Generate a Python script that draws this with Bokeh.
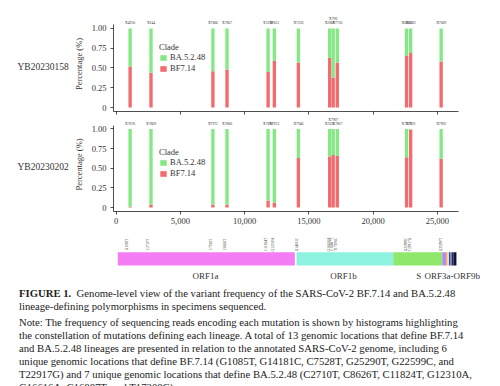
import math
from bokeh.plotting import figure
from bokeh.models import (ColumnDataSource, FixedTicker, NumeralTickFormatter, Range1d,
                          Legend, LegendItem, LabelSet, Div, CustomJSTickFormatter)
from bokeh.layouts import column, row
from bokeh.embed import file_html
from bokeh.resources import INLINE

# ---------------- data ----------------
positions = [1085, 2710, 7528, 8626, 11824, 12310, 14181, 16616, 16887, 17208, 22599, 22917, 25290]
mutations = ["G1085T", "C2710T", "C7528T", "C8626T", "C11824T", "G12310A", "G14181C",
             "G16616A", "C16887T", "T17208C", "G22599C", "T22917G", "G25290T"]

s1_name = "YB20230158"
s1_bf = [0.52, 0.44, 0.46, 0.48, 0.45, 0.59, 0.57, 0.63, 0.38, 0.57, 0.65, 0.69, 0.58]
s1_ba = [0.48, 0.56, 0.54, 0.52, 0.55, 0.41, 0.43, 0.37, 0.62, 0.43, 0.35, 0.31, 0.42]
s1_ids = ["X4950", "X244", "X7866", "X7867", "X3198", "X7611", "X7216",
          "X2869", "X796", "X7736", "X6865", "X3882", "X7669"]

s2_name = "YB20230202"
s2_bf = [0.01, 0.04, 0.04, 0.04, 0.09, 0.06, 0.63, 0.65, 0.67, 0.66, 0.64, 0.99, 0.62]
s2_ba = [0.99, 0.96, 0.96, 0.96, 0.91, 0.94, 0.37, 0.35, 0.33, 0.34, 0.36, 0.01, 0.38]
s2_ids = ["X7876", "X7869", "X7971", "X7806", "X7891", "X7913", "X7946",
          "X7631", "X7907", "X7867", "X7219", "X7921", "X7902"]

clades = ["BA.5.2.48", "BF7.14"]
x_ticks = [0, 5000, 10000, 15000, 20000, 25000]
y_ticks = [0, 0.25, 0.5, 0.75, 1.0]
y_tick_labels = ["0", "0.25", "0.50", "0.75", "1.00"]

gene_names = ["ORF1a", "ORF1b", "S", "ORF3a", "E", "M", "ORF6", "ORF7a", "ORF8", "N"]
gene_start = [355, 14143, 21605, 25385, 25690, 25760, 25900, 25990, 26120, 26260]
gene_end = [14012, 21605, 25385, 25690, 25760, 25860, 25990, 26120, 26260, 26480]
region_labels = ["ORF1a", "ORF1b", "S", "ORF3a-ORF9b"]
region_label_x = [7121, 17767, 23570, 26153]

caption_title = "Genome-level view of the variant frequency of the SARS-CoV-2 BF.7.14 and BA.5.2.48"
caption_title2 = "lineage-defining polymorphisms in specimens sequenced."
caption_note = [
    "Note: The frequency of sequencing reads encoding each mutation is shown by histograms highlighting",
    "the constellation of mutations defining each lineage. A total of 13 genomic locations that define BF.7.14",
    "and BA.5.2.48 lineages are presented in relation to the annotated SARS-CoV-2 genome, including 6",
    "unique genomic locations that define BF.7.14 (G1085T, G14181C, C7528T, G25290T, G22599C, and",
    "T22917G) and 7 unique genomic locations that define BA.5.2.48 (C2710T, C8626T, C11824T, G12310A,",
    "G16616A, C16887T, and T17208C).",
]

# ---------------- style ----------------
RED = "#F26B6F"
GREEN = "#84E884"
GENE_COLORS = ["#F47CF4", "#8EF2E0", "#8FE86C", "#B88AEF", "#F2A65E", "#F7D08A",
               "#3D4B8C", "#6F7FD8", "#1F2A5A", "#111133"]
FONT = "Liberation Serif"
TXT = "#333333"
X0 = -208
PX_PER_UNIT = 348 / 26848.0
LABEL_W = 70


def raised_flags(pos):
    out = []
    for i, p in enumerate(pos):
        left = i > 0 and p - pos[i - 1] < 400
        right = i < len(pos) - 1 and pos[i + 1] - p < 400
        out.append(1 if (left and right) else 0)
    return out


def panel(name, bf, ba, ids, top, frame_h, bottom, ytop, show_xlabels, legend_xy):
    flags = raised_flags(positions)
    src = ColumnDataSource(dict(pos=positions, bf=bf, ba=ba, ids=ids,
                                ly=[1.063 + 0.055 * f for f in flags]))
    h = top + frame_h + bottom
    yr = Range1d(-0.05, ytop)
    p = figure(width=492 - LABEL_W, height=h, x_range=Range1d(X0, X0 + 348 / PX_PER_UNIT),
               y_range=yr, output_backend="svg", toolbar_location=None,
               min_border_left=110 - LABEL_W, min_border_right=34,
               min_border_top=top, min_border_bottom=bottom)
    rs = p.vbar_stack(["bf", "ba"], x="pos", width=260, source=src,
                      fill_color=[RED, GREEN], line_color=None)
    p.xgrid.visible = False
    p.ygrid.visible = False
    p.outline_line_color = None

    ya = p.yaxis[0]
    ya.ticker = FixedTicker(ticks=y_ticks)
    ya.major_label_overrides = {t: l for t, l in zip(y_ticks, y_tick_labels)}
    ya.bounds = (-0.05, 1.05)
    ya.axis_label = "Percentage (%)"
    ya.axis_label_text_font = FONT
    ya.axis_label_text_font_style = "normal"
    ya.axis_label_text_font_size = "8.5px"
    ya.axis_label_text_color = TXT
    ya.axis_label_standoff = 5
    ya.major_label_standoff = 4

    xa = p.xaxis[0]
    xa.ticker = FixedTicker(ticks=x_ticks)
    if show_xlabels:
        xa.formatter = NumeralTickFormatter(format="0,0")
        xa.major_label_standoff = 3
    else:
        xa.formatter = CustomJSTickFormatter(code="return ''")
        xa.major_label_standoff = 0

    for ax in (xa, ya):
        ax.axis_line_color = "#222222"
        ax.axis_line_width = 0.8
        ax.major_tick_line_color = "#222222"
        ax.major_tick_line_width = 0.8
        ax.major_tick_in = 0
        ax.major_tick_out = 3
        ax.minor_tick_line_color = None
        ax.major_label_text_font = FONT
        ax.major_label_text_color = TXT
        ax.major_label_text_font_size = "8.5px"

    p.add_layout(LabelSet(x="pos", y="ly", text="ids", source=src, text_align="center",
                          text_baseline="middle", text_font=FONT, text_font_size="3.7px",
                          text_color=TXT))

    legend = Legend(items=[LegendItem(label=clades[0], renderers=[rs[1]]),
                           LegendItem(label=clades[1], renderers=[rs[0]])],
                    title="Clade", location=legend_xy, margin=0, padding=0, spacing=1,
                    glyph_width=8, glyph_height=7, label_height=7, label_standoff=3,
                    title_standoff=-2, border_line_color=None, background_fill_alpha=0,
                    label_text_font=FONT, label_text_font_size="8.5px", label_text_color=TXT,
                    title_text_font=FONT, title_text_font_size="8.5px", title_text_color=TXT,
                    title_text_font_style="normal")
    p.add_layout(legend)

    # row label to the left of the panel
    lf = figure(width=LABEL_W, height=h, x_range=Range1d(0, LABEL_W), y_range=yr,
                output_backend="svg", toolbar_location=None,
                min_border_left=0, min_border_right=0,
                min_border_top=top, min_border_bottom=bottom)
    lf.axis.visible = False
    lf.xgrid.visible = False
    lf.ygrid.visible = False
    lf.outline_line_color = None
    lf.text(x=[17], y=[0.51], text=[name], text_align="left", text_baseline="middle",
            text_font={"value": FONT}, text_font_size="9.5px", text_color=TXT)
    return row(lf, p, spacing=0)


r1 = panel(s1_name, s1_bf, s1_ba, s1_ids, 16, 95, 6, 1.15, False, (46, 38))
r2 = panel(s2_name, s2_bf, s2_ba, s2_ids, 0, 94, 17, 1.146, True, (46, 33))

# ---------------- genome map ----------------
g = figure(width=492, height=54, x_range=Range1d(X0, X0 + 382 / PX_PER_UNIT), y_range=Range1d(0, 1),
           output_backend="svg", toolbar_location=None,
           min_border_left=110, min_border_right=0, min_border_top=0, min_border_bottom=0)
g.axis.visible = False
g.xgrid.visible = False
g.ygrid.visible = False
g.outline_line_color = None
g.quad(left=gene_start, right=gene_end, bottom=0.315, top=0.561,
       fill_color=GENE_COLORS, line_color=None)
msrc = ColumnDataSource(dict(x=positions, y=[0.704] * len(positions), t=mutations))
g.add_layout(LabelSet(x="x", y="y", text="t", source=msrc, angle=math.pi / 2,
                      text_align="center", text_baseline="middle", text_font=FONT,
                      text_font_size="3.5px", text_color=TXT))
rsrc = ColumnDataSource(dict(x=region_label_x, y=[0.12] * len(region_labels), t=region_labels))
g.add_layout(LabelSet(x="x", y="y", text="t", source=rsrc, text_align="center",
                      text_baseline="middle", text_font=FONT, text_font_size="9px",
                      text_color=TXT))

# ---------------- caption ----------------
line = '<div style="white-space:nowrap;">{}</div>'
html = ('<div style="width:492px;height:104px;overflow:hidden;box-sizing:border-box;'
        'padding:0px 0 0 14px;font-family:\'Liberation Serif\',serif;font-size:10.7px;'
        'line-height:13px;color:#222222;">'
        + line.format('<b>FIGURE 1.</b>&nbsp; ' + caption_title)
        + line.format(caption_title2)
        + '<div style="height:3px;"></div>'
        + ''.join(line.format(t) for t in caption_note)
        + '</div>')
cap = Div(text=html, width=492, height=104)

layout = column(r1, r2, g, cap, spacing=0)
open("out.html", "w").write(file_html(layout, INLINE))
